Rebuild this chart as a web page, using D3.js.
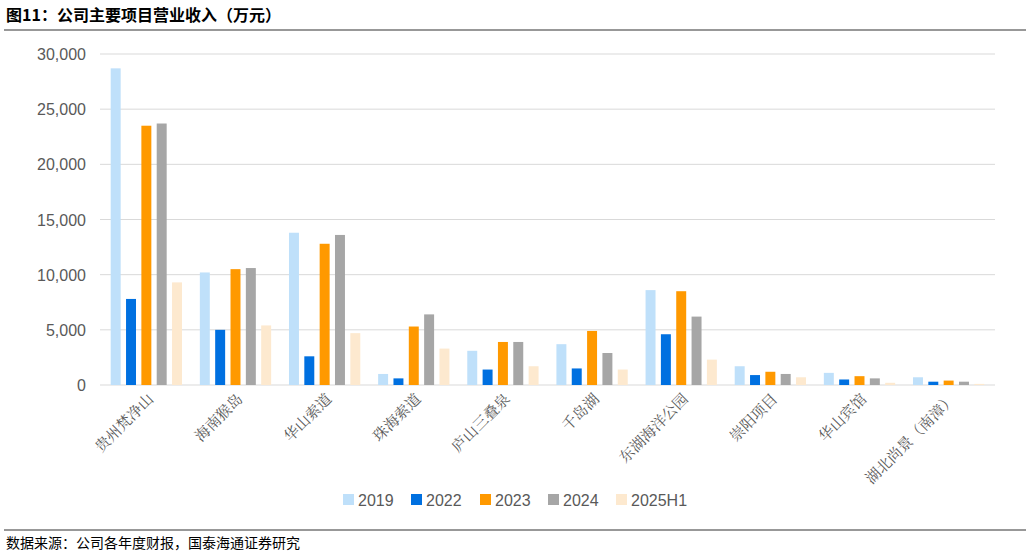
<!DOCTYPE html>
<html><head><meta charset="utf-8">
<script src="https://cdn.jsdelivr.net/npm/d3@7"></script>
<style>body{margin:0;background:#fff;font-family:"Noto Sans CJK SC","Noto Sans",sans-serif}</style>
</head><body><svg width="1032" height="556"></svg>
<script>
var projects = ["贵州梵净山","海南猴岛","华山索道","珠海索道","庐山三叠泉","千岛湖","东湖海洋公园","崇阳项目","华山宾馆","湖北尚景（南漳）"];
var years = ["2019","2022","2023","2024","2025H1"];
var v2019 = [28700,10200,13800,1000,3100,3700,8600,1700,1100,700];
var v2022 = [7800,5000,2600,600,1400,1500,4600,900,500,300];
var v2023 = [23500,10500,12800,5300,3900,4900,8500,1200,800,400];
var v2024 = [23700,10600,13600,6400,3900,2900,6200,1000,600,300];
var v2025 = [9300,5400,4700,3300,1700,1400,2300,700,200,100];
var yTicks = [0,5000,10000,15000,20000,25000,30000];
var colors = ["#bfe0fa","#0070e0","#ff9900","#a6a6a6","#fde9cf"];
var series = [v2019,v2022,v2023,v2024,v2025];

var svg = d3.select("svg");
svg.append("text").attr("x",6).attr("y",21).attr("font-size",16).attr("font-weight","bold")
   .attr("font-family","Noto Sans CJK SC").text("图11：公司主要项目营业收入（万元）");
svg.append("line").attr("x1",4).attr("x2",1026).attr("y1",30).attr("y2",30).attr("stroke","#333").attr("stroke-width",1.2);
svg.append("line").attr("x1",4).attr("x2",1026).attr("y1",530).attr("y2",530).attr("stroke","#333").attr("stroke-width",1.2);
svg.append("text").attr("x",6).attr("y",548).attr("font-size",14).text("数据来源：公司各年度财报，国泰海通证券研究");

var x = d3.scaleBand().domain(projects).range([100,995]).paddingInner(0.2).paddingOuter(0.12);
var xi = d3.scaleBand().domain(years).range([0,x.bandwidth()]).paddingInner(0.35);
var y = d3.scaleLinear().domain([0,30000]).range([385,54]);

svg.selectAll(".grid").data(yTicks).enter().append("line")
   .attr("x1",100).attr("x2",995).attr("y1",d=>y(d)).attr("y2",d=>y(d))
   .attr("stroke","#d9d9d9");
svg.selectAll(".yl").data(yTicks).enter().append("text")
   .attr("x",86).attr("y",d=>y(d)+6).attr("text-anchor","end").attr("font-size",16)
   .attr("fill","#595959").attr("font-family","Liberation Sans")
   .text(d=>d3.format(",")(d));

series.forEach(function(s,k){
  svg.selectAll(".b"+k).data(s).enter().append("rect")
    .attr("x",(d,i)=>x(projects[i])+xi(years[k]))
    .attr("width",xi.bandwidth())
    .attr("y",d=>y(d)).attr("height",d=>y(0)-y(d))
    .attr("fill",colors[k]);
});

svg.selectAll(".xl").data(projects).enter().append("text")
   .attr("transform",d=>"translate("+(x(d)+x.bandwidth()/2+8)+",400) rotate(-45)")
   .attr("text-anchor","end").attr("font-size",15).attr("fill","#595959")
   .attr("font-family","Noto Serif CJK SC, Noto Sans CJK SC").text(d=>d);

var lg = svg.append("g").attr("transform","translate(343,500)");
years.forEach(function(yr,k){
  var off = [0,68,137,205,273][k];
  lg.append("rect").attr("x",off).attr("y",-6).attr("width",11).attr("height",11).attr("fill",colors[k]);
  lg.append("text").attr("x",off+15).attr("y",5.5).attr("font-size",16).attr("fill","#595959")
    .attr("font-family","Liberation Sans").text(yr);
});
</script></body></html>
